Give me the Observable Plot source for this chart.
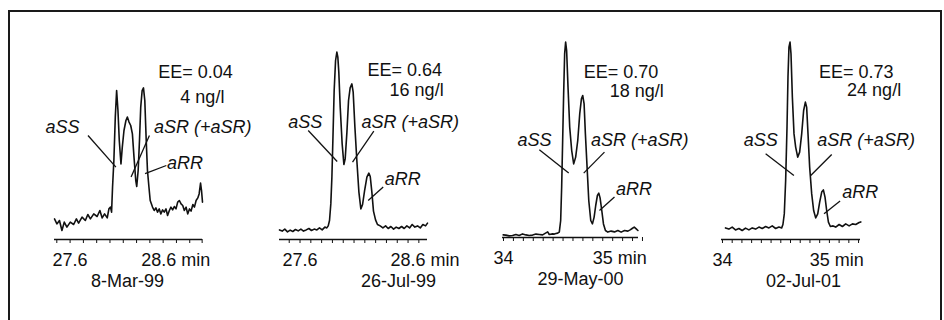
<!DOCTYPE html>
<html><head><meta charset="utf-8">
<script src="https://cdn.jsdelivr.net/npm/d3@7"></script>
<script src="https://cdn.jsdelivr.net/npm/@observablehq/plot@0.6"></script>
<style>
html,body{margin:0;padding:0;background:#fff;}
#wrap{position:relative;width:944px;height:320px;overflow:hidden;background:#fff;font-family:"Liberation Sans",Arial,sans-serif;}
#frame{position:absolute;left:8px;top:10px;width:934px;height:330px;border:2px solid #1a1a1a;border-bottom:none;box-sizing:border-box;}
#wrap svg{position:absolute;left:0;top:0;}
</style></head><body><div id="wrap"><div id="frame"></div></div>
<script>
// ---- data ----
const dates = ["8-Mar-99", "26-Jul-99", "29-May-00", "02-Jul-01"];
const eeValues = [0.04, 0.64, 0.70, 0.73];
const concNgL = [4, 16, 18, 24];
const peakNames = ["aSS", "aSR (+aSR)", "aRR"];
const tickLabelsA = [27.6, 28.6];
const tickLabelsB = [34, 35];
const axisUnit = "min";
const ticks1 = [27.45, 27.6, 27.75, 27.9, 28.05, 28.2, 28.35, 28.5, 28.65, 28.8, 28.95, 29.09];
const ticks2 = [27.5, 27.6, 27.7, 27.8, 27.9, 28.0, 28.1, 28.2, 28.3, 28.4, 28.5, 28.6, 28.7];
const ticksB = [34.0, 34.1, 34.2, 34.3, 34.4, 34.5, 34.6, 34.7, 34.8, 34.9, 35.0, 35.1, 35.2, 35.3, 35.4];

const time1 = [27.424,27.451,27.480,27.508,27.534,27.564,27.602,27.640,27.671,27.696,27.735,27.772,27.800,27.829,27.867,27.905,27.936,27.962,27.989,28.019,28.038,28.056,28.068,28.079,28.094,28.110,28.125,28.140,28.155,28.174,28.189,28.208,28.230,28.246,28.265,28.284,28.303,28.321,28.341,28.352,28.368,28.383,28.397,28.413,28.428,28.443,28.459,28.473,28.488,28.504,28.530,28.549,28.568,28.587,28.606,28.624,28.644,28.662,28.682,28.700,28.720,28.738,28.757,28.776,28.795,28.814,28.833,28.852,28.871,28.889,28.909,28.927,28.947,28.965,28.985,29.003,29.022,29.041,29.056,29.072,29.083,29.094];
const signal1 = [10.3,7.8,9.5,4.5,8.7,6.2,8.7,7.5,10.3,8.2,11.2,9.5,12.5,10.3,12.8,11.5,14.5,10.8,12.8,10.8,15.3,16.2,13.7,26.2,39.5,61.2,74.5,64.5,49.5,37.8,46.2,54.5,59.5,61.2,58.7,57.0,52.8,41.2,29.5,26.5,34.5,49.5,66.2,74.5,75.8,69.5,49.5,34.5,27.0,19.5,16.2,14.5,15.8,13.7,15.3,12.8,14.8,13.7,15.3,12.0,14.5,16.2,14.8,16.5,15.3,18.7,19.5,17.8,17.0,14.5,16.2,12.8,15.3,14.2,17.5,16.2,19.5,20.8,22.8,28.2,24.5,18.7];

const time2 = [27.410,27.435,27.459,27.484,27.509,27.533,27.558,27.583,27.608,27.632,27.657,27.682,27.706,27.731,27.756,27.780,27.805,27.830,27.848,27.861,27.873,27.885,27.895,27.904,27.916,27.929,27.941,27.950,27.959,27.972,27.990,28.006,28.018,28.034,28.049,28.064,28.080,28.092,28.108,28.126,28.145,28.163,28.179,28.197,28.219,28.237,28.250,28.265,28.280,28.299,28.317,28.342,28.367,28.392,28.416,28.441,28.466,28.490,28.515,28.540,28.564,28.589,28.614,28.638,28.663,28.688,28.713,28.737,28.762,28.780];
const signal2 = [4.8,4.2,5.2,3.8,4.7,4.0,5.0,4.3,5.2,4.2,4.8,5.5,4.5,5.2,4.8,5.8,4.8,6.2,5.8,6.8,9.5,17.8,31.2,49.5,74.5,89.5,93.7,91.2,83.7,66.2,47.8,37.5,40.3,53.7,69.5,75.8,77.8,73.7,56.2,39.5,23.7,15.3,17.5,24.2,31.2,33.2,31.5,23.7,14.2,9.8,7.5,6.8,5.8,6.8,5.5,6.5,5.2,6.2,5.5,6.5,5.5,6.8,5.8,7.5,6.2,6.8,5.8,7.5,6.8,8.2];

const time3 = [33.997,34.024,34.057,34.091,34.125,34.158,34.192,34.226,34.259,34.293,34.327,34.360,34.394,34.428,34.445,34.461,34.495,34.512,34.529,34.546,34.562,34.576,34.586,34.596,34.606,34.616,34.626,34.636,34.650,34.667,34.687,34.707,34.727,34.748,34.768,34.785,34.798,34.812,34.825,34.842,34.859,34.879,34.896,34.913,34.929,34.946,34.960,34.973,34.990,35.007,35.027,35.051,35.084,35.118,35.152,35.185,35.219,35.253,35.276,35.296,35.317,35.337,35.354];
const signal3 = [1.3,1.2,0.8,1.0,1.5,1.0,1.8,1.3,1.0,1.2,1.7,1.5,1.3,2.3,2.8,1.5,1.8,1.7,2.0,2.2,2.7,8.5,25.2,48.5,71.8,91.8,97.7,93.5,75.2,55.2,43.5,36.8,40.2,48.5,61.8,69.3,71.0,66.8,51.8,35.2,18.5,8.5,6.8,10.2,16.0,21.0,22.2,19.8,13.5,6.8,3.5,2.7,3.2,2.8,3.5,2.7,3.5,3.2,3.8,4.5,5.2,4.3,3.5];

const time4 = [34.031,34.066,34.100,34.134,34.169,34.203,34.237,34.272,34.306,34.341,34.375,34.409,34.444,34.478,34.512,34.547,34.581,34.609,34.622,34.636,34.650,34.664,34.674,34.684,34.695,34.705,34.719,34.736,34.753,34.774,34.794,34.815,34.835,34.853,34.866,34.880,34.897,34.918,34.938,34.959,34.980,35.000,35.021,35.038,35.055,35.072,35.090,35.110,35.138,35.165,35.200,35.234,35.268,35.303,35.337,35.371,35.406,35.423];
const signal4 = [5.8,5.2,6.2,4.8,5.5,4.5,5.7,4.8,5.8,5.2,6.2,5.5,6.5,5.8,6.8,5.5,6.2,5.8,7.5,12.8,29.5,56.2,81.2,96.2,98.7,92.8,71.2,52.8,46.2,41.2,43.7,52.8,64.5,68.7,66.2,52.8,36.2,22.8,14.5,10.8,12.8,18.7,23.7,24.8,21.2,14.5,8.7,6.5,6.8,6.2,7.5,6.5,7.8,6.8,7.8,7.5,8.5,8.8];

// ---- layout (pixel frames and annotation anchors) ----
const layout = [
  {time: time1, signal: signal1, ticks: ticks1, tickLabels: tickLabelsA, tickHalf: 17.5,
   left: 54, right: 202, axisY: 239, domain: [27.424, 29.094],
   labelAt: [[27.322, 55.9], [28.546, 55.9], [28.693, 38.2]],
   leaders: [[27.802, 52, 28.117, 36.2], [28.495, 52, 28.288, 31.2], [28.686, 37, 28.446, 32.9]],
   eeAt: [28.595, 83.8], concAt: [28.844, 71.3], dateDx: -1},
  {time: time2, signal: signal2, ticks: ticks2, tickLabels: tickLabelsA, tickHalf: 17.5,
   left: 279, right: 427, axisY: 239, domain: [27.41, 28.78],
   labelAt: [[27.491, 58.7], [28.169, 58.7], [28.385, 30]],
   leaders: [[27.676, 54.5, 27.944, 39], [28.283, 54.2, 28.086, 38.7], [28.370, 26.2, 28.231, 19.5]],
   eeAt: [28.225, 84.5], concAt: [28.429, 74.5], dateDx: 45},
  {time: time3, signal: signal3, ticks: ticksB, tickLabels: tickLabelsB, tickHalf: 10,
   left: 502, right: 638, axisY: 237, domain: [33.99, 35.36],
   labelAt: [[34.142, 48.5], [34.882, 48.5], [35.134, 24]],
   leaders: [[34.361, 43.9, 34.657, 32.2], [35.017, 42.7, 34.808, 32.2], [35.118, 20.2, 34.967, 13.5]],
   eeAt: [34.808, 82.8], concAt: [35.071, 73], dateDx: 10},
  {time: time4, signal: signal4, ticks: ticksB, tickLabels: tickLabelsB, tickHalf: 10,
   left: 721, right: 860, axisY: 239, domain: [33.99, 35.42],
   labelAt: [[34.220, 49.5], [34.976, 49.5], [35.233, 23.4]],
   leaders: [[34.444, 42.9, 34.735, 32], [35.124, 42.5, 34.908, 32], [35.210, 19.2, 35.045, 12.9]],
   eeAt: [34.993, 83.8], concAt: [35.282, 74.5], dateDx: 12.5}
];

const W = 944, H = 320, FS = 18, INK = "#111";
const font = '"Liberation Sans", Arial, Helvetica, sans-serif';
const wrap = document.getElementById("wrap");

layout.forEach((p, i) => {
  const series = p.time.map((t, k) => ({t, s: p.signal[k]}));
  const labels = peakNames.map((name, k) => ({name, x: p.labelAt[k][0], y: p.labelAt[k][1]}));
  const leaders = p.leaders.map(([x1, y1, x2, y2]) => ({x1, y1, x2, y2}));
  const tl = p.tickLabels.map((v, k) => ({v, text: k === p.tickLabels.length - 1 ? `${v} ${axisUnit}` : String(v)}));
  const chart = Plot.plot({
    width: W, height: H,
    marginLeft: p.left, marginRight: W - p.right,
    marginTop: p.axisY - 200, marginBottom: H - p.axisY,
    style: {background: "transparent", fontFamily: font, color: INK, overflow: "visible"},
    x: {domain: p.domain, ticks: p.ticks, tickSize: 4, tickFormat: () => "", label: null},
    y: {domain: [0, 100], axis: null},
    marks: [
      Plot.ruleY([0], {stroke: INK, strokeWidth: 1.5}),
      Plot.line(series, {x: "t", y: "s", stroke: INK, strokeWidth: 1.6, strokeLinejoin: "round"}),
      Plot.link(leaders, {x1: "x1", y1: "y1", x2: "x2", y2: "y2", stroke: INK, strokeWidth: 1.3}),
      Plot.text(labels, {x: "x", y: "y", text: "name", textAnchor: "start", fontStyle: "italic", fontSize: FS, fill: INK}),
      Plot.text([`EE= ${eeValues[i].toFixed(2)}`], {x: p.eeAt[0], y: p.eeAt[1], text: d => d, textAnchor: "start", fontSize: FS, fill: INK}),
      Plot.text([`${concNgL[i]} ng/l`], {x: p.concAt[0], y: p.concAt[1], text: d => d, textAnchor: "start", fontSize: FS, fill: INK}),
      Plot.text(tl, {x: "v", text: "text", frameAnchor: "bottom", dy: 26, dx: -p.tickHalf, textAnchor: "start", fontSize: FS, fill: INK}),
      Plot.text([dates[i]], {frameAnchor: "bottom", dy: 47, dx: p.dateDx, text: d => d, fontSize: FS, fill: INK})
    ]
  });
  wrap.appendChild(chart);
});
</script></body></html>
